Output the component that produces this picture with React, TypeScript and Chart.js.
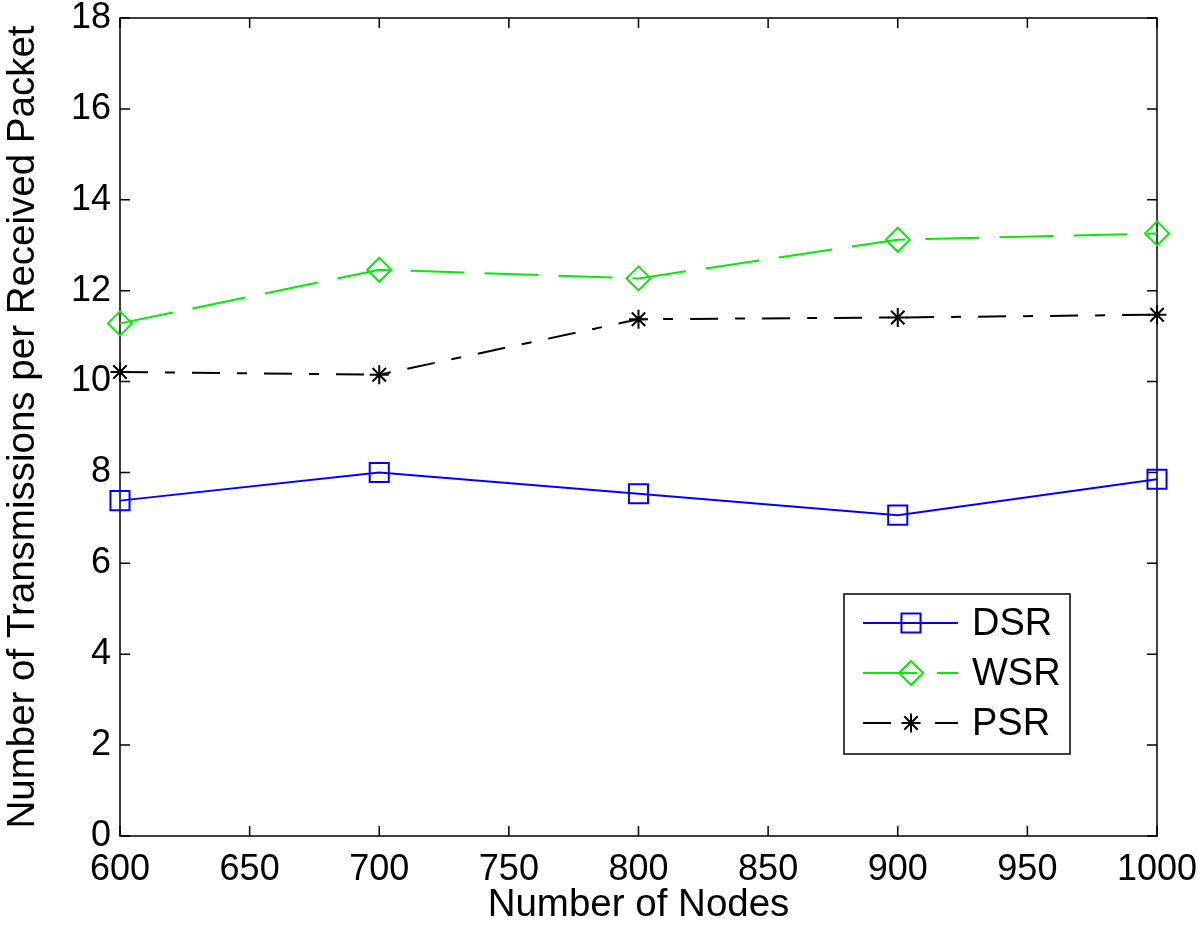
import React, { useEffect, useRef } from "react";
import { Chart, registerables } from "chart.js";

Chart.register(...registerables);

const nodes = [600, 700, 800, 900, 1000];
const dsrValues = [7.38, 8.0, 7.53, 7.06, 7.85];
const wsrValues = [11.28, 12.46, 12.27, 13.12, 13.26];
const psrValues = [10.21, 10.15, 11.37, 11.41, 11.47];
const seriesLabels = ["DSR", "WSR", "PSR"];
const xTitle = "Number of Nodes";
const yTitle = "Number of Transmissions per Received Packet";

const FONT = "'Liberation Sans', Arial, Helvetica, sans-serif";

function drawMarker(ctx: CanvasRenderingContext2D, style: string, x: number, y: number, r: number) {
  ctx.beginPath();
  if (style === "rect") {
    const s = Math.SQRT1_2 * r;
    ctx.rect(x - s, y - s, 2 * s, 2 * s);
  } else if (style === "rectRot") {
    ctx.moveTo(x - r, y);
    ctx.lineTo(x, y - r);
    ctx.lineTo(x + r, y);
    ctx.lineTo(x, y + r);
    ctx.closePath();
  } else if (style === "star") {
    for (let i = 0; i < 4; i++) {
      const a = (i * Math.PI) / 4;
      ctx.moveTo(x - Math.cos(a) * r, y - Math.sin(a) * r);
      ctx.lineTo(x + Math.cos(a) * r, y + Math.sin(a) * r);
    }
  }
  ctx.stroke();
}

const framePlugin = {
  id: "matlabFrame",
  beforeDatasetsDraw(chart: any) {
    const { ctx, chartArea: a, scales } = chart;
    ctx.save();
    ctx.strokeStyle = "#000";
    ctx.lineWidth = 1.5;
    ctx.strokeRect(a.left, a.top, a.right - a.left, a.bottom - a.top);
    const tl = 10;
    ctx.beginPath();
    scales.x.ticks.forEach((t: any) => {
      const px = scales.x.getPixelForValue(t.value);
      ctx.moveTo(px, a.bottom);
      ctx.lineTo(px, a.bottom - tl);
      ctx.moveTo(px, a.top);
      ctx.lineTo(px, a.top + tl);
    });
    scales.y.ticks.forEach((t: any) => {
      const py = scales.y.getPixelForValue(t.value);
      ctx.moveTo(a.left, py);
      ctx.lineTo(a.left + tl, py);
      ctx.moveTo(a.right, py);
      ctx.lineTo(a.right - tl, py);
    });
    ctx.stroke();
    ctx.restore();
  },
};

const legendPlugin = {
  id: "boxLegend",
  afterDatasetsDraw(chart: any) {
    const { ctx } = chart;
    const bx = 844, by = 594, bw = 226, bh = 160;
    ctx.save();
    ctx.fillStyle = "#fff";
    ctx.fillRect(bx, by, bw, bh);
    ctx.strokeStyle = "#000";
    ctx.lineWidth = 1.5;
    ctx.strokeRect(bx, by, bw, bh);
    chart.data.datasets.forEach((ds: any, i: number) => {
      const y = 623 + i * 50;
      ctx.strokeStyle = ds.borderColor;
      ctx.lineWidth = ds.borderWidth;
      ctx.setLineDash(ds.borderDash || []);
      ctx.beginPath();
      ctx.moveTo(863, y);
      ctx.lineTo(958, y);
      ctx.stroke();
      ctx.setLineDash([]);
      ctx.lineWidth = ds.pointBorderWidth;
      drawMarker(ctx, ds.pointStyle, 911, y, ds.pointRadius);
      ctx.fillStyle = "#000";
      ctx.font = `38px ${FONT}`;
      ctx.textBaseline = "middle";
      ctx.textAlign = "left";
      ctx.fillText(ds.label, 972, y + 2);
    });
    ctx.restore();
  },
};

export default function App() {
  const ref = useRef<HTMLCanvasElement>(null);
  useEffect(() => {
    document.body.style.margin = "0";
    if (!ref.current) return;
    const mk = (vals: number[]) => vals.map((v, i) => ({ x: nodes[i], y: v }));
    const chart = new Chart(ref.current, {
      type: "line",
      data: {
        datasets: [
          {
            label: seriesLabels[0],
            data: mk(dsrValues),
            borderColor: "#0000ff",
            backgroundColor: "transparent",
            borderWidth: 2,
            pointStyle: "rect",
            pointRadius: 13.5,
            pointBorderWidth: 2,
            pointBorderColor: "#0000ff",
            pointBackgroundColor: "transparent",
            clip: false,
          },
          {
            label: seriesLabels[1],
            data: mk(wsrValues),
            borderColor: "#00ee00",
            backgroundColor: "transparent",
            borderWidth: 2,
            borderDash: [54, 20],
            pointStyle: "rectRot",
            pointRadius: 12,
            pointBorderWidth: 2,
            pointBorderColor: "#00ee00",
            pointBackgroundColor: "transparent",
            clip: false,
          },
          {
            label: seriesLabels[2],
            data: mk(psrValues),
            borderColor: "#000000",
            backgroundColor: "transparent",
            borderWidth: 2,
            borderDash: [28, 17, 10, 17],
            pointStyle: "star",
            pointRadius: 9.5,
            pointBorderWidth: 2,
            pointBorderColor: "#000000",
            pointBackgroundColor: "transparent",
            clip: false,
          },
        ],
      } as any,
      options: {
        animation: false,
        responsive: false,
        devicePixelRatio: 1,
        layout: { padding: { top: 18, right: 43, left: 0, bottom: 0 } },
        plugins: { legend: { display: false }, tooltip: { enabled: false } },
        elements: { line: { tension: 0 } },
        scales: {
          x: {
            type: "linear",
            min: 600,
            max: 1000,
            border: { display: false },
            grid: { display: false, drawTicks: false, tickLength: 0 },
            ticks: {
              stepSize: 50,
              padding: 12,
              color: "#000",
              font: { family: FONT, size: 36 },
              maxRotation: 0,
              callback: (v: any) => String(v),
            },
            title: {
              display: true,
              text: xTitle,
              color: "#000",
              font: { family: FONT, size: 38.5 },
              padding: { top: 0, bottom: 7 },
            },
            afterFit: (s: any) => {
              s.height = 99;
              s.paddingLeft = 0;
              s.paddingRight = 0;
            },
          },
          y: {
            type: "linear",
            min: 0,
            max: 18,
            border: { display: false },
            grid: { display: false, drawTicks: false, tickLength: 0 },
            ticks: {
              stepSize: 2,
              padding: 9,
              color: "#000",
              font: { family: FONT, size: 36 },
            },
            title: {
              display: true,
              text: yTitle,
              color: "#000",
              font: { family: FONT, size: 38.5 },
              padding: { top: 0, bottom: 0 },
            },
            afterFit: (s: any) => {
              s.width = 120;
              s.paddingTop = 0;
              s.paddingBottom = 0;
            },
          },
        },
      } as any,
      plugins: [framePlugin, legendPlugin],
    });
    return () => chart.destroy();
  }, []);
  return (
    <div style={{ width: 1200, height: 935, background: "#fff" }}>
      <canvas ref={ref} width={1200} height={935} style={{ display: "block" }} />
    </div>
  );
}
